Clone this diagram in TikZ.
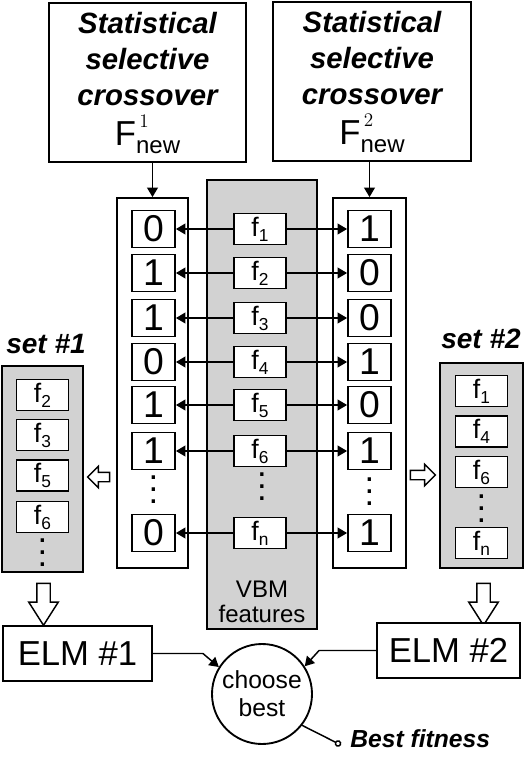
\documentclass[tikz,border=0pt]{standalone}
\usepackage{fontspec}
\setmainfont{Liberation Sans}
\usetikzlibrary{positioning,calc,arrows.meta,shapes.arrows}

\newcommand{\fsub}[1]{f\raisebox{-0.35ex}{\fontsize{13}{13}\selectfont #1}}
\newcommand{\Fnew}[1]{F\rlap{\hspace{2.5pt}\raisebox{13pt}{\fontsize{14}{14}\selectfont$#1$}}\raisebox{-6pt}{\fontsize{18}{18}\selectfont new}}

\tikzset{
	box/.style={draw,line width=1.4pt,inner sep=0pt,fill=white},
	bit/.style={box,minimum width=32.25pt,minimum height=27.75pt,font=\fontsize{28}{28}\selectfont},
	feat/.style={box,minimum width=39pt,minimum height=23.25pt,font=\fontsize{20}{20}\selectfont},
	graybox/.style={draw,line width=1.4pt,fill=gray!35},
	link/.style={line width=1.1pt,-{Triangle[length=7pt,width=8pt]}},
	coldots/.style={align=center,inner sep=0pt,font=\fontsize{26}{9}\selectfont},
	hollow/.style={draw,line width=1.1pt,fill=white,single arrow,single arrow head indent=0pt}
}

\begin{document}
\begin{tikzpicture}[x=0.75pt,y=-0.75pt]
	\useasboundingbox (0,0) rectangle (527,763);
	% crossover boxes
	\node[box,minimum width=147.75pt,minimum height=119.25pt,align=center,
		font=\fontsize{22}{27}\selectfont\bfseries\itshape] (top1) at (147.5,82.5)
		{Statistical\\selective\\crossover\\[3pt]{\normalfont\fontsize{26}{27}\selectfont\Fnew{1}}};
	\node[box,minimum width=148.5pt,minimum height=119.25pt,align=center,
		font=\fontsize{22}{27}\selectfont\bfseries\itshape] (top2) at (372,81.5)
		{Statistical\\selective\\crossover\\[3pt]{\normalfont\fontsize{26}{27}\selectfont\Fnew{2}}};
	%
	\node[box,minimum width=53.25pt,minimum height=277.5pt] (col1) at (152.5,383) {};
	\node[box,minimum width=54.75pt,minimum height=277.5pt] (col2) at (369.5,383) {};
	\node[graybox,minimum width=82.5pt,minimum height=336.75pt,inner sep=0pt] (vbm) at (262,404.5) {};
	\node[align=center,font=\fontsize{18}{19}\selectfont] (vbmtxt) at (262,602) {VBM\\features};
	%
	\draw[link] (top1.south -| col1.north) -- (col1.north);
	\draw[link] (top2.south -| col2.north) -- (col2.north);
	%
	\foreach \n/\y/\a/\b in {1/229/0/1,2/273/1/0,3/318/1/0,4/362/0/1,5/405/1/0,6/451/1/1,n/533/0/1} {
		\node[feat] (f\n) at (260,\y) {\fsub{\n}};
		\node[bit] (l\n) at (153.5,\y) {\a};
		\node[bit] (r\n) at (369.5,\y) {\b};
		\draw[link] (f\n) -- (l\n);
		\draw[link] (f\n) -- (r\n);
	}
	\node[coldots] (ldots) at (153.5,490) {.\\.\\.};
	\node[coldots] (mdots) at (262,487) {.\\.\\.};
	\node[coldots] (rdots) at (369.5,492) {.\\.\\.};
	%
	% selected subsets
	\node[graybox,minimum width=60.75pt,minimum height=154.5pt,inner sep=0pt] (set1) at (42.5,469) {};
	\node[graybox,minimum width=62.25pt,minimum height=153.75pt,inner sep=0pt] (set2) at (481.5,465.5) {};
	\node[anchor=base,font=\fontsize{21}{21}\selectfont\bfseries\itshape] (lbl1) at (46,353) {set \#1};
	\node[anchor=base,font=\fontsize{21}{21}\selectfont\bfseries\itshape] (lbl2) at (481,348) {set \#2};
	\foreach \k/\y in {2/395,3/435,5/475.5,6/517}
		\node[feat] (sa\k) at (42.5,\y) {\fsub{\k}};
	\node[coldots] (sadots) at (42.5,553) {.\\.\\.};
	\foreach \k/\y in {1/391,4/431.5,6/472,n/543}
		\node[feat] (sb\k) at (481.5,\y) {\fsub{\k}};
	\node[coldots] (sbdots) at (481.5,509) {.\\.\\.};
	%
	\node[hollow,shape border rotate=180,minimum height=16.5pt,minimum width=15pt,
		inner sep=3pt,single arrow head extend=4.5pt] (h1) at (101,477) {};
	\node[hollow,minimum height=18.75pt,minimum width=15pt,
		inner sep=3pt,single arrow head extend=4.5pt] (h2) at (420.5,475) {};
	\node[hollow,shape border rotate=270,minimum height=31.5pt,minimum width=21pt,
		inner sep=4.5pt,single arrow head extend=6pt,single arrow tip angle=65] (d1) at (43.5,599) {};
	\node[hollow,shape border rotate=270,minimum height=31.5pt,minimum width=21pt,
		inner sep=4.5pt,single arrow head extend=6pt,single arrow tip angle=65] (d2) at (483.5,599) {};
	%
	\node[box,minimum width=111.75pt,minimum height=41.25pt,font=\fontsize{26}{26}\selectfont] (elm1) at (77.5,653.5) {ELM \#1};
	\node[box,minimum width=107.25pt,minimum height=41.25pt,font=\fontsize{26}{26}\selectfont] (elm2) at (448.5,650.5) {ELM \#2};
	\node[box,circle,minimum size=75pt,align=center,font=\fontsize{18.5}{21}\selectfont] (choose) at (262,694) {choose\\best};
	\node[anchor=base west,inner sep=0pt,font=\fontsize{18.5}{18.5}\selectfont\bfseries\itshape] (best) at (350,747) {Best fitness};
	\coordinate (bestpin) at (341,745);
	%
	\draw[link] (elm1.east) -- ++(50,0) -- (choose.148);
	\draw[link] (elm2.west) -- ++(-57,0) -- (choose.33);
	\draw[line width=1.1pt,-{Circle[open,length=5pt,width=5pt]}] (choose.-38) -- (bestpin);
\end{tikzpicture}
\end{document}
